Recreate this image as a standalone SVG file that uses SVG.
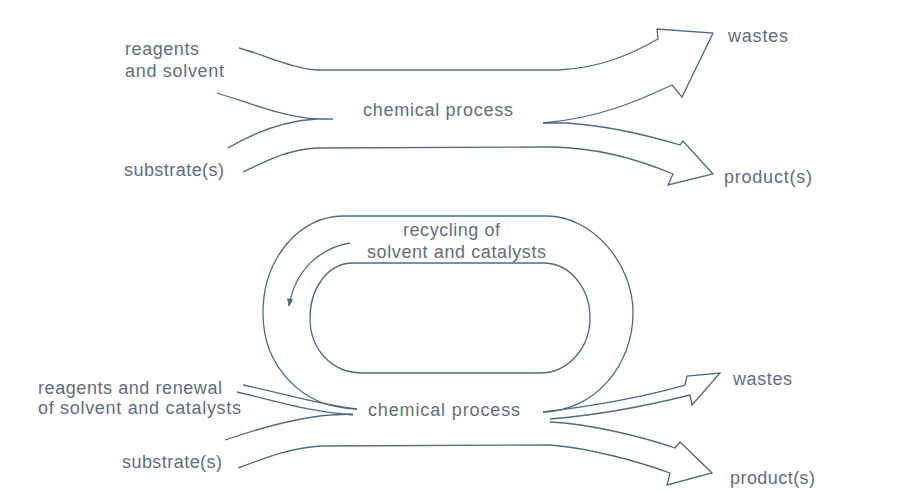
<svg xmlns="http://www.w3.org/2000/svg" width="918" height="490" viewBox="0 0 918 490">
<style>
.t{font-family:"Liberation Sans",Arial,sans-serif;font-size:18px;fill:#5f6f7d}
.c{fill:none;stroke:#4f6b80;stroke-width:1.3;stroke-linejoin:miter}
</style>
<defs>
<marker id="ah" viewBox="0 0 10 10" refX="9" refY="5" markerWidth="9" markerHeight="8" orient="auto" markerUnits="userSpaceOnUse">
<path d="M0,1 L10,5 L0,9 Z" fill="#4f6b80"/>
</marker>
</defs>
<rect width="918" height="490" fill="#fefefe"/>
<g id="connectors">
<path class="c" d="M239,48 C265,55 290,68 317,70 L558,70 C600,68 630,55 658,39 L657,29 L713,33 L682,97 L672,85 C640,100 600,118 543,123"/>
<path class="c" d="M217,93 C250,103 280,116 317,119 L333,119"/>
<path class="c" d="M228,148 C250,135 280,121 317,119"/>
<path class="c" d="M543,123 L567,123 C610,126 650,136 680,145 L683,141 L713,174 L668,185 L673,174 C640,160 600,148 553,147 L317,148 C285,150 265,162 243,172"/>
<path class="c" d="M357,409 C300,408 263,365 263,313 C263,259 299,216 343,216 L547,216 C591,216 633,262 633,313 C633,365 595,411 543,412"/>
<path class="c" d="M353,263 L543,263 C570,263 590,288 590,318 C590,348 568,373 540,373 L363,373 C330,373 310,348 310,318 C310,288 328,263 353,263 Z"/>
<path class="c" d="M350,243 C320,248 295,270 289,306" marker-end="url(#ah)"/>
<path class="c" d="M243,385 C290,395 320,405 357,409"/>
<path class="c" d="M237,392 C280,402 310,412 353,415"/>
<path class="c" d="M225,440 C260,428 295,418 330,415 L353,414"/>
<path class="c" d="M238,468 C265,458 290,448 320,446 L550,445 C590,448 640,462 670,473 L667,485 L712,473 L680,442 L675,448 C640,436 590,424 550,422"/>
<path class="c" d="M543,412 C600,405 650,395 685,385 L687,376 L720,373 L692,405 L690,395 C650,405 600,415 550,419"/>
</g>
<g id="top-reagents"><text class="t" x="125" y="55" textLength="74">reagents</text><text class="t" x="125" y="77" textLength="99">and solvent</text></g>
<g id="top-substrate"><text class="t" x="124" y="176" textLength="100">substrate(s)</text></g>
<g id="top-process"><text class="t" x="363" y="116" textLength="150">chemical process</text></g>
<g id="top-wastes"><text class="t" x="728" y="42" textLength="60">wastes</text></g>
<g id="top-product"><text class="t" x="724" y="183" textLength="88">product(s)</text></g>
<g id="recycling"><text class="t" x="403" y="236" textLength="97">recycling of</text><text class="t" x="367" y="258" textLength="179">solvent and catalysts</text></g>
<g id="bottom-reagents"><text class="t" x="38" y="394" textLength="184">reagents and renewal</text><text class="t" x="38" y="414" textLength="203">of solvent and catalysts</text></g>
<g id="bottom-substrate"><text class="t" x="122" y="468" textLength="100">substrate(s)</text></g>
<g id="bottom-process"><text class="t" x="368" y="416" textLength="152">chemical process</text></g>
<g id="bottom-wastes"><text class="t" x="733" y="385" textLength="59">wastes</text></g>
<g id="bottom-product"><text class="t" x="730" y="484" textLength="85">product(s)</text></g>
</svg>
